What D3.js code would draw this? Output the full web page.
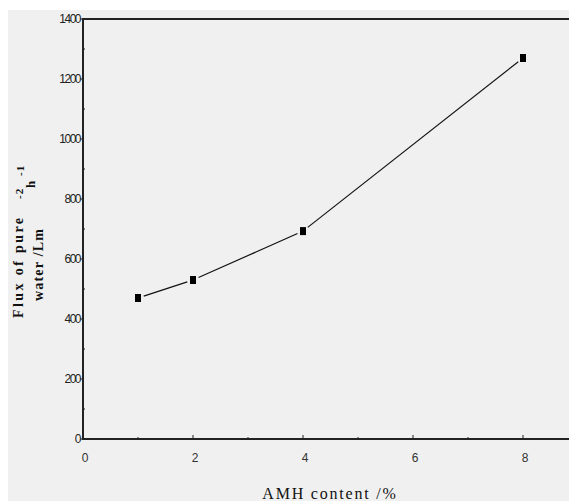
<!DOCTYPE html>
<html>
<head>
<meta charset="utf-8">
<script src="https://cdn.jsdelivr.net/npm/d3@7"></script>
<style>
  body { margin: 0; background: #fff; }
  svg { display: block; }
</style>
</head>
<body>
<script>
let amh = [1, 2, 4, 8];
let flux = [470, 530, 693, 1270];
let xTicks = [0, 2, 4, 6, 8];
let yTicks = [0, 200, 400, 600, 800, 1000, 1200, 1400];

let width = 569, height = 501;

let svg = d3.select('body')
  .append('svg')
  .attr('width', width)
  .attr('height', height);

svg.append('rect')
  .attr('x', 8).attr('y', 10)
  .attr('width', width - 8).attr('height', height - 10)
  .attr('fill', '#f0f0f0');

let x = d3.scaleLinear().domain([0, 9]).range([83, 578]);
let y = d3.scaleLinear().domain([0, 1400]).range([439, 19]);

let g = svg.append('g');

// frame: left, bottom, top (right side runs past the window)
g.append('path')
  .attr('d', 'M' + x(9) + ',' + y(1400) + 'H' + x(0) + 'V' + y(0) + 'H' + x(9))
  .attr('fill', 'none')
  .attr('stroke', '#222')
  .attr('stroke-width', 2);

// y ticks
g.selectAll('.ymaj')
  .data(yTicks)
  .join('line')
  .attr('x1', x(0) - 3).attr('x2', x(0))
  .attr('y1', function(d) { return y(d); })
  .attr('y2', function(d) { return y(d); })
  .attr('stroke', '#222');

g.selectAll('.ymin')
  .data(d3.range(100, 1400, 200))
  .join('line')
  .attr('x1', x(0)).attr('x2', x(0) + 2)
  .attr('y1', function(d) { return y(d); })
  .attr('y2', function(d) { return y(d); })
  .attr('stroke', '#222');

g.selectAll('.ylab')
  .data(yTicks)
  .join('text')
  .attr('x', x(0) - 3)
  .attr('y', function(d) { return y(d) + 4; })
  .attr('text-anchor', 'end')
  .attr('font-family', 'Liberation Sans, sans-serif')
  .attr('font-size', 12)
  .attr('letter-spacing', -1.5)
  .attr('fill', '#222')
  .text(function(d) { return d; });

// x ticks
g.selectAll('.xmaj')
  .data(d3.range(1, 9))
  .join('line')
  .attr('x1', function(d) { return x(d); })
  .attr('x2', function(d) { return x(d); })
  .attr('y1', y(0)).attr('y2', function(d) { return y(0) - (d % 2 === 0 ? 4 : 2); })
  .attr('stroke', '#222');

g.selectAll('.xlab')
  .data(xTicks)
  .join('text')
  .attr('x', function(d) { return x(d) + 2; })
  .attr('y', 462)
  .attr('text-anchor', 'middle')
  .attr('font-family', 'Liberation Sans, sans-serif')
  .attr('font-size', 12)
  .attr('fill', '#333')
  .text(function(d) { return d; });

// data line, broken short of each marker
let pts = amh.map(function(d, i) { return [x(d), y(flux[i])]; });
let segs = [];
for (let i = 0; i < pts.length - 1; i++) {
  let a = pts[i], b = pts[i + 1];
  let dx = b[0] - a[0], dy = b[1] - a[1], len = Math.sqrt(dx * dx + dy * dy);
  let gap = 6;
  segs.push([
    [a[0] + dx / len * gap, a[1] + dy / len * gap],
    [b[0] - dx / len * gap, b[1] - dy / len * gap]
  ]);
}
g.selectAll('.seg')
  .data(segs)
  .join('line')
  .attr('x1', function(d) { return d[0][0]; })
  .attr('y1', function(d) { return d[0][1]; })
  .attr('x2', function(d) { return d[1][0]; })
  .attr('y2', function(d) { return d[1][1]; })
  .attr('stroke', '#111')
  .attr('stroke-width', 1.2);

g.selectAll('.pt')
  .data(pts)
  .join('rect')
  .attr('x', function(d) { return d[0] - 3; })
  .attr('y', function(d) { return d[1] - 4; })
  .attr('width', 6).attr('height', 8)
  .attr('fill', '#000');

// axis titles
svg.append('text')
  .attr('x', 330).attr('y', 499)
  .attr('text-anchor', 'middle')
  .attr('font-family', 'Liberation Serif, serif')
  .attr('font-size', 16)
  .attr('letter-spacing', 1.8)
  .attr('fill', '#111')
  .text('AMH content /%');

function yTitle(tx, ty, size, spacing, str) {
  svg.append('text')
    .attr('transform', 'translate(' + tx + ',' + ty + ') rotate(-90)')
    .attr('font-family', 'Liberation Serif, serif')
    .attr('font-size', size)
    .attr('font-weight', 'bold')
    .attr('letter-spacing', spacing)
    .attr('fill', '#111')
    .text(str);
}
yTitle(23, 318, 14, 2.4, 'Flux of pure');
yTitle(23, 199, 11, 1, '-2');
yTitle(35, 188, 13, 0, 'h');
yTitle(24, 176, 11, 1, '-1');
yTitle(43, 301, 14, 1.2, 'water /Lm');
</script>
</body>
</html>
